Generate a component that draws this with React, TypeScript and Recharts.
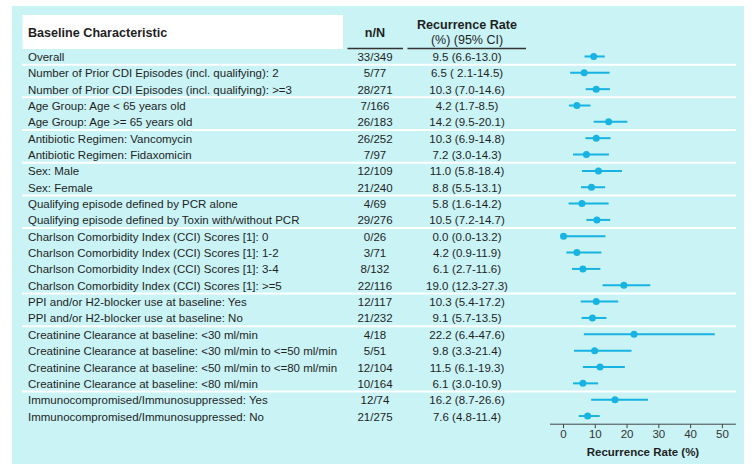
import React from 'react';
import { ScatterChart, Scatter, XAxis, YAxis, ErrorBar, Label } from 'recharts';

const labels = [
  'Overall',
  'Number of Prior CDI Episodes (incl. qualifying): 2',
  'Number of Prior CDI Episodes (incl. qualifying): >=3',
  'Age Group: Age < 65 years old',
  'Age Group: Age >= 65 years old',
  'Antibiotic Regimen: Vancomycin',
  'Antibiotic Regimen: Fidaxomicin',
  'Sex: Male',
  'Sex: Female',
  'Qualifying episode defined by PCR alone',
  'Qualifying episode defined by Toxin with/without PCR',
  'Charlson Comorbidity Index (CCI) Scores [1]: 0',
  'Charlson Comorbidity Index (CCI) Scores [1]: 1-2',
  'Charlson Comorbidity Index (CCI) Scores [1]: 3-4',
  'Charlson Comorbidity Index (CCI) Scores [1]: >=5',
  'PPI and/or H2-blocker use at baseline: Yes',
  'PPI and/or H2-blocker use at baseline: No',
  'Creatinine Clearance at baseline: <30 ml/min',
  'Creatinine Clearance at baseline: <30 ml/min to <=50 ml/min',
  'Creatinine Clearance at baseline: <50 ml/min to <=80 ml/min',
  'Creatinine Clearance at baseline: <80 ml/min',
  'Immunocompromised/Immunosuppressed: Yes',
  'Immunocompromised/Immunosuppressed: No',
];

const counts = [
  '33/349', '5/77', '28/271', '7/166', '26/183', '26/252', '7/97', '12/109', '21/240',
  '4/69', '29/276', '0/26', '3/71', '8/132', '22/116', '12/117', '21/232', '4/18', '5/51',
  '12/104', '10/164', '12/74', '21/275',
];

const rateTexts = [
  '9.5 (6.6-13.0)', '6.5 ( 2.1-14.5)', '10.3 (7.0-14.6)', '4.2 (1.7-8.5)', '14.2 (9.5-20.1)',
  '10.3 (6.9-14.8)', '7.2 (3.0-14.3)', '11.0 (5.8-18.4)', '8.8 (5.5-13.1)', '5.8 (1.6-14.2)',
  '10.5 (7.2-14.7)', '0.0 (0.0-13.2)', '4.2 (0.9-11.9)', '6.1 (2.7-11.6)', '19.0 (12.3-27.3)',
  '10.3 (5.4-17.2)', '9.1 (5.7-13.5)', '22.2 (6.4-47.6)', '9.8 (3.3-21.4)', '11.5 (6.1-19.3)',
  '6.1 (3.0-10.9)', '16.2 (8.7-26.6)', '7.6 (4.8-11.4)',
];

const estimates = [9.5, 6.5, 10.3, 4.2, 14.2, 10.3, 7.2, 11.0, 8.8, 5.8, 10.5, 0.0, 4.2, 6.1, 19.0, 10.3, 9.1, 22.2, 9.8, 11.5, 6.1, 16.2, 7.6];
const lowers = [6.6, 2.1, 7.0, 1.7, 9.5, 6.9, 3.0, 5.8, 5.5, 1.6, 7.2, 0.0, 0.9, 2.7, 12.3, 5.4, 5.7, 6.4, 3.3, 6.1, 3.0, 8.7, 4.8];
const uppers = [13.0, 14.5, 14.6, 8.5, 20.1, 14.8, 14.3, 18.4, 13.1, 14.2, 14.7, 13.2, 11.9, 11.6, 27.3, 17.2, 13.5, 47.6, 21.4, 19.3, 10.9, 26.6, 11.4];

const groupEnds = [1, 3, 5, 7, 9, 11, 15, 17, 21];
const xTicks = [0, 10, 20, 30, 40, 50];
const rowTicks = labels.map((_, i) => i + 1);

const W = 755;
const H = 476;
const X_AXIS_H = 40;
const MARGIN = { top: 48.3, right: 19.1, bottom: 476 - 424.2 - X_AXIS_H, left: 0 };
const ROW_PX = (H - MARGIN.top - MARGIN.bottom - X_AXIS_H) / labels.length;

const FONT = '"Liberation Sans", Arial, Helvetica, sans-serif';
const BG = '#c9f3f5';
const BLUE = '#17b3e2';
const TEXT = '#1f1f1f';
const ROW_FS = 11.5;

const data = labels.map((_, i) => ({
  row: i + 1,
  est: estimates[i],
  err: [estimates[i] - lowers[i], uppers[i] - estimates[i]],
}));

const RowTick = (props: any) => {
  const { y, payload } = props;
  const idx = payload.value - 1;
  if (idx < 0 || idx >= labels.length) return null;
  const sep = groupEnds.includes(payload.value);
  return (
    <g>
      {sep && (
        <line x1={22} x2={736} y1={y + ROW_PX / 2} y2={y + ROW_PX / 2} stroke="#ffffff" strokeWidth={2} />
      )}
      <text x={28} y={y + 0.5} dy="0.35em" textAnchor="start" fontSize={ROW_FS} fill={TEXT} fontFamily={FONT}>
        {labels[idx]}
      </text>
      <text x={375} y={y + 0.5} dy="0.35em" textAnchor="middle" fontSize={ROW_FS} fill={TEXT} fontFamily={FONT}>
        {counts[idx]}
      </text>
      <text x={467} y={y + 0.5} dy="0.35em" textAnchor="middle" fontSize={ROW_FS} fill={TEXT} fontFamily={FONT} style={{ whiteSpace: 'pre' }}>
        {rateTexts[idx]}
      </text>
    </g>
  );
};

const Dot = (props: any) => {
  const { cx, cy } = props;
  return <circle cx={cx} cy={cy} r={3.5} fill={BLUE} />;
};

export default function App() {
  return (
    <div style={{ position: 'absolute', left: 0, top: 0, width: W, height: H, background: '#ffffff', fontFamily: FONT }}>
      <svg width={W} height={H} style={{ position: 'absolute', left: 0, top: 0 }}>
        <rect x={12} y={6} width={732} height={458} fill={BG} />
        <rect x={22.5} y={15} width={320.5} height={34} fill="#ffffff" />
        <text x={28} y={32.5} dy="0.35em" fontSize={12.6} fontWeight="bold" fill={TEXT} fontFamily={FONT}>
          Baseline Characteristic
        </text>
        <text x={375} y={32.5} dy="0.35em" textAnchor="middle" fontSize={12.6} fontWeight="bold" fill={TEXT} fontFamily={FONT}>
          n/N
        </text>
        <text x={467} y={25} dy="0.35em" textAnchor="middle" fontSize={12.6} fontWeight="bold" fill={TEXT} fontFamily={FONT}>
          Recurrence Rate
        </text>
        <text x={467} y={40} dy="0.35em" textAnchor="middle" fontSize={12.5} fill={TEXT} fontFamily={FONT}>
          (%) (95% CI)
        </text>
        <line x1={347.5} x2={403} y1={48.5} y2={48.5} stroke="#333" strokeWidth={1.5} />
        <line x1={407.5} x2={526} y1={48.5} y2={48.5} stroke="#333" strokeWidth={1.5} />
      </svg>
      <div style={{ position: 'absolute', left: 0, top: 0 }}>
        <ScatterChart width={W} height={H} margin={MARGIN}>
          <XAxis
            type="number"
            dataKey="est"
            domain={[-4.25, 54.25]}
            ticks={xTicks}
            allowDataOverflow
            height={X_AXIS_H}
            tickSize={4}
            axisLine={{ stroke: '#444' }}
            tickLine={{ stroke: '#444' }}
            tick={{ fontSize: 11.5, fill: '#333', fontFamily: FONT }}
          >
            <Label
              value="Recurrence Rate (%)"
              position="insideBottom"
              offset={8}
              style={{ fontSize: 11.5, fontWeight: 'bold', fill: TEXT, fontFamily: FONT }}
            />
          </XAxis>
          <YAxis
            type="number"
            dataKey="row"
            domain={[0.5, labels.length + 0.5]}
            reversed
            ticks={rowTicks}
            interval={0}
            width={550}
            axisLine={false}
            tickLine={false}
            tick={<RowTick />}
          />
          <Scatter data={data} shape={<Dot />} isAnimationActive={false}>
            <ErrorBar dataKey="err" direction="x" width={0} stroke={BLUE} strokeWidth={2} isAnimationActive={false} />
          </Scatter>
        </ScatterChart>
      </div>
    </div>
  );
}
